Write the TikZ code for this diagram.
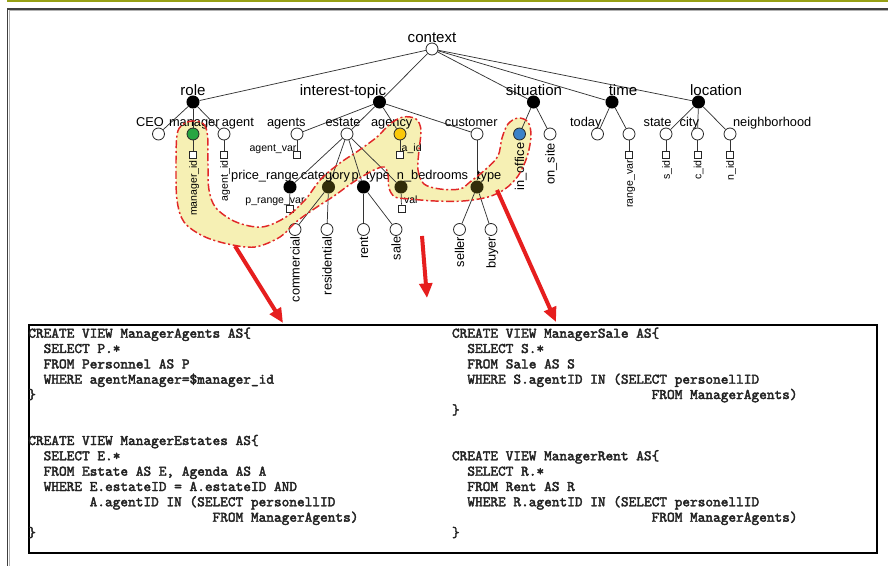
\documentclass[tikz,border=0pt]{standalone}
\usepackage{fontspec}
\setmainfont{Liberation Sans}
\newfontfamily\codefont{lmmono10-regular}[Extension=.otf,FakeBold=2.5]
\usetikzlibrary{arrows.meta}
\definecolor{hlfill}{RGB}{246,240,180}
\definecolor{hlred}{RGB}{225,40,40}
\definecolor{arrred}{RGB}{230,30,30}
\definecolor{mgreen}{RGB}{40,165,65}
\definecolor{myellow}{RGB}{250,200,10}
\definecolor{mblue}{RGB}{60,130,200}
\definecolor{olivebar}{RGB}{150,160,20}
\definecolor{olivedark}{RGB}{50,45,10}
\definecolor{codecol}{RGB}{35,35,35}
\begin{document}
\begin{tikzpicture}[x=0.75pt,y=-0.75pt,
  hol/.style={circle,draw=black!85,fill=white,line width=0.6pt,inner sep=0,minimum size=9pt},
  blk/.style={circle,fill=black,inner sep=0,minimum size=9.8pt},
  sq/.style={rectangle,draw=black!85,fill=white,line width=0.6pt,inner sep=0,minimum size=5.2pt},
  edge/.style={draw=black!80,line width=0.55pt},
  big/.style={font=\fontsize{11.3}{13}\selectfont,inner sep=0,anchor=base},
  mid/.style={font=\fontsize{9.6}{11}\selectfont,inner sep=0,anchor=base},
  sml/.style={font=\fontsize{7.9}{9}\selectfont,inner sep=0,anchor=base},
  vmid/.style={font=\fontsize{9.6}{11}\selectfont,inner sep=0,rotate=90,anchor=base east},
  vsml/.style={font=\fontsize{7.9}{9}\selectfont,inner sep=0,rotate=90,anchor=base east},
  code/.style={font=\codefont\fontsize{10.97}{12}\selectfont,anchor=base west,inner sep=0,text=codecol},
  redarr/.style={draw=arrred,line width=3pt,-{Triangle[length=11pt,width=9.5pt]}},
  hlband/.style={fill=hlfill},
  hlline/.style={draw=hlred,line width=1.1pt,dash pattern=on 6pt off 2pt on 1.5pt off 2pt}
]
\useasboundingbox (0,0) rectangle (888,566);
\fill[white] (0,0) rectangle (888,566);
% frame
\draw[olivebar,line width=1.2pt] (7,0.8) -- (888,0.8);
\draw[black!75,line width=1.1pt] (7.5,566) -- (7.5,9) -- (888,9);
\draw[black!30,line width=0.6pt] (9.3,566) -- (9.3,10.8) -- (888,10.8);

% highlight band
\path[hlband] plot[smooth cycle,tension=0.55] coordinates {
 (192,121) (203,123.5) (207.5,135) (208,165) (209,190) (216,208) (236,222) (262,227) (286,217)
 (305,200) (321,179) (340,163) (358,151) (377,137) (390,124) (403,117) (416,119) (421,130)
 (419,150) (418,170) (424,184) (440,189) (460,189) (470,182) (486,169) (498,156) (502,138)
 (508,124) (518,118) (528,122) (531,136) (527,157) (518,176) (505,189) (488,197) (463,201)
 (435,201) (410,199) (395,197) (389,188) (388,175) (384,167) (372,171) (352,183) (334,196)
 (314,209) (296,222) (280,237) (255,247) (228,244) (203,236) (184,222) (177,200) (176,165)
 (177,135) (182,125)};

% nodes level 0/1
\node[hol] (ctx) at (432,49) {};
\node[blk] (role) at (193,102) {};
\node[blk] (it) at (379.5,102) {};
\node[blk] (sit) at (533.5,102) {};
\node[blk] (time) at (612,102) {};
\node[blk] (loc) at (698.5,102) {};
% level 2
\node[hol] (ceo) at (158.5,134) {};
\node[hol,fill=mgreen] (mgr) at (193,134) {};
\node[hol] (agt) at (224,134) {};
\node[hol] (agts) at (297,134) {};
\node[hol] (est) at (347,134) {};
\node[hol,fill=myellow] (agcy) at (400,134) {};
\node[hol] (cust) at (477,134) {};
\node[hol,fill=mblue] (inoff) at (519.5,134) {};
\node[hol] (onsite) at (550,134) {};
\node[hol] (today) at (597.5,134) {};
\node[hol] (rng) at (629,134) {};
\node[hol] (state) at (666,134) {};
\node[hol] (city) at (697.5,134) {};
\node[hol] (nbh) at (730,134) {};
% squares
\node[sq] (mgrsq) at (193,155) {};
\node[sq] (agtsq) at (224,155) {};
\node[sq] (agtssq) at (297,155) {};
\node[sq] (agcysq) at (400,155) {};
\node[sq] (rngsq) at (629,154.5) {};
\node[sq] (statesq) at (666,154.5) {};
\node[sq] (citysq) at (697.5,154.5) {};
\node[sq] (nbhsq) at (730,154.5) {};
% level 3
\node[blk] (pr) at (290,187) {};
\node[blk,fill=olivedark] (cat) at (328.5,187) {};
\node[blk] (pt) at (363.5,187) {};
\node[blk,fill=olivedark] (nb) at (401,187) {};
\node[blk,fill=olivedark] (typ) at (477,187) {};
\node[sq] (prsq) at (289.5,208.5) {};
\node[sq] (nbsq) at (401.5,208.5) {};
% level 4
\node[hol] (comm) at (295,229.5) {};
\node[hol] (resi) at (327,229.5) {};
\node[hol] (rent) at (363.5,229.5) {};
\node[hol] (sale) at (396,229.5) {};
\node[hol] (seller) at (459.5,229.5) {};
\node[hol] (buyer) at (491,229.5) {};

% edges
\foreach \a/\b in {ctx/role,ctx/it,ctx/sit,ctx/time,ctx/loc,
  role/ceo,role/mgr,role/agt,it/agts,it/est,it/agcy,it/cust,
  sit/inoff,sit/onsite,time/today,time/rng,loc/state,loc/city,loc/nbh,
  mgr/mgrsq,agt/agtsq,agts/agtssq,agcy/agcysq,rng/rngsq,state/statesq,city/citysq,nbh/nbhsq,
  est/pr,est/cat,est/pt,est/nb,cust/typ,pr/prsq,nb/nbsq,
  cat/comm,cat/resi,pt/rent,pt/sale,typ/seller,typ/buyer}
  \draw[edge] (\a) -- (\b);

% labels
\node[big] (lctx) at (432,43) {context};
\node[big] (lrole) at (193,95.5) {role};
\node[big] (lit) at (343,95.5) {interest-topic};
\node[big] (lsit) at (534,95.5) {situation};
\node[big] (ltime) at (623,95.5) {time};
\node[big] (lloc) at (716,95.5) {location};

\node[mid] (lceo) at (150,127) {CEO};
\node[mid] (lmgr) at (194.3,127) {manager};
\node[mid] (lagt) at (237.8,127) {agent};
\node[mid] (lagts) at (286.3,127) {agents};
\node[mid] (lest) at (343,127) {estate};
\node[mid] (lagcy) at (391.7,127) {agency};
\node[mid] (lcust) at (471.3,127) {customer};
\node[mid] (ltoday) at (585.8,127) {today};
\node[mid] (lstate) at (657.5,127) {state};
\node[mid] (lcity) at (689.3,127) {city};
\node[mid] (lnbh) at (772.2,127) {neighborhood};

\node[mid] (lpr) at (265,180) {price\_range};
\node[mid] (lcat) at (325.5,180) {category};
\node[mid] (lpt) at (370.8,180) {p\_type};
\node[mid] (lnb) at (432.5,180) {n\_bedrooms};
\node[mid] (ltyp) at (489.2,180) {type};

\node[sml] (lagtv) at (273,152) {agent\_var};
\node[sml] (laid) at (411.7,152) {a\_id};
\node[sml] (lprv) at (275,203.5) {p\_range\_var};
\node[sml] (lval) at (410.8,204) {val};

\node[vsml] (lmid) at (196.8,160) {manager\_id};
\node[vsml] (lagid) at (227.8,160.5) {agent\_id};
\node[vsml] (lrv) at (632.8,160) {range\_var};
\node[vsml] (lsid) at (669.8,160) {s\_id};
\node[vsml] (lcid) at (701.3,160) {c\_id};
\node[vsml] (lnid) at (733.8,160) {n\_id};

\node[vmid] (linoff) at (524.1,142.5) {in\_office};
\node[vmid] (lonsite) at (554.6,143) {on\_site};
\node[vmid] (lcomm) at (299.6,236.5) {commercial};
\node[vmid] (lresi) at (331.6,236.5) {residential};
\node[vmid] (lrent) at (368.1,236.5) {rent};
\node[vmid] (lsale) at (400.6,236.5) {sale};
\node[vmid] (lseller) at (464.1,236.5) {seller};
\node[vmid] (lbuyer) at (495.6,236.5) {buyer};

% highlight outline
\path[hlline] plot[smooth cycle,tension=0.55] coordinates {
 (192,121) (203,123.5) (207.5,135) (208,165) (209,190) (216,208) (236,222) (262,227) (286,217)
 (305,200) (321,179) (340,163) (358,151) (377,137) (390,124) (403,117) (416,119) (421,130)
 (419,150) (418,170) (424,184) (440,189) (460,189) (470,182) (486,169) (498,156) (502,138)
 (508,124) (518,118) (528,122) (531,136) (527,157) (518,176) (505,189) (488,197) (463,201)
 (435,201) (410,199) (395,197) (389,188) (388,175) (384,167) (372,171) (352,183) (334,196)
 (314,209) (296,222) (280,237) (255,247) (228,244) (203,236) (184,222) (177,200) (176,165)
 (177,135) (182,125)};

% SQL box
\node[draw=black,line width=1.5pt,inner sep=0,minimum width=636pt,minimum height=171pt,anchor=north west] (sqlbox) at (28,324) {};

% red arrows
\coordinate (a1s) at (235,246);
\coordinate (a1e) at (283,323);
\coordinate (a2s) at (422,236);
\coordinate (a2e) at (427,298);
\coordinate (a3s) at (497,190);
\coordinate (a3e) at (556,322);
\draw[redarr] (a1s) -- (a1e);
\draw[redarr] (a2s) -- (a2e);
\draw[redarr] (a3s) -- (a3e);

% code left
\node[code] (la0) at (28,337.7) {CREATE VIEW ManagerAgents AS\{};
\node[code] (la1) at (43.4,353.0) {SELECT P.*};
\node[code] (la2) at (43.4,368.4) {FROM Personnel AS P};
\node[code] (la3) at (43.4,383.7) {WHERE agentManager=\$manager\_id};
\node[code] (la4) at (28,399.0) {\}};
\node[code] (la7) at (28,445.0) {CREATE VIEW ManagerEstates AS\{};
\node[code] (la8) at (43.4,460.3) {SELECT E.*};
\node[code] (la9) at (43.4,475.7) {FROM Estate AS E, Agenda AS A};
\node[code] (la10) at (43.4,491.0) {WHERE E.estateID = A.estateID AND};
\node[code] (la11) at (89.4,506.3) {A.agentID IN (SELECT personellID};
\node[code] (la12) at (212.3,521.7) {FROM ManagerAgents)};
\node[code] (la13) at (28,537.0) {\}};
% code right
\node[code] (rb0) at (451.7,337.7) {CREATE VIEW ManagerSale AS\{};
\node[code] (rb1) at (467.1,353.0) {SELECT S.*};
\node[code] (rb2) at (467.1,368.4) {FROM Sale AS S};
\node[code] (rb3) at (467.1,383.7) {WHERE S.agentID IN (SELECT personellID};
\node[code] (rb4) at (651.4,399.0) {FROM ManagerAgents)};
\node[code] (rb5) at (451.7,414.4) {\}};
\node[code] (rb8) at (451.7,460.3) {CREATE VIEW ManagerRent AS\{};
\node[code] (rb9) at (467.1,475.7) {SELECT R.*};
\node[code] (rb10) at (467.1,491.0) {FROM Rent AS R};
\node[code] (rb11) at (467.1,506.3) {WHERE R.agentID IN (SELECT personellID};
\node[code] (rb12) at (651.4,521.7) {FROM ManagerAgents)};
\node[code] (rb13) at (451.7,537.0) {\}};
\end{tikzpicture}
\end{document}
